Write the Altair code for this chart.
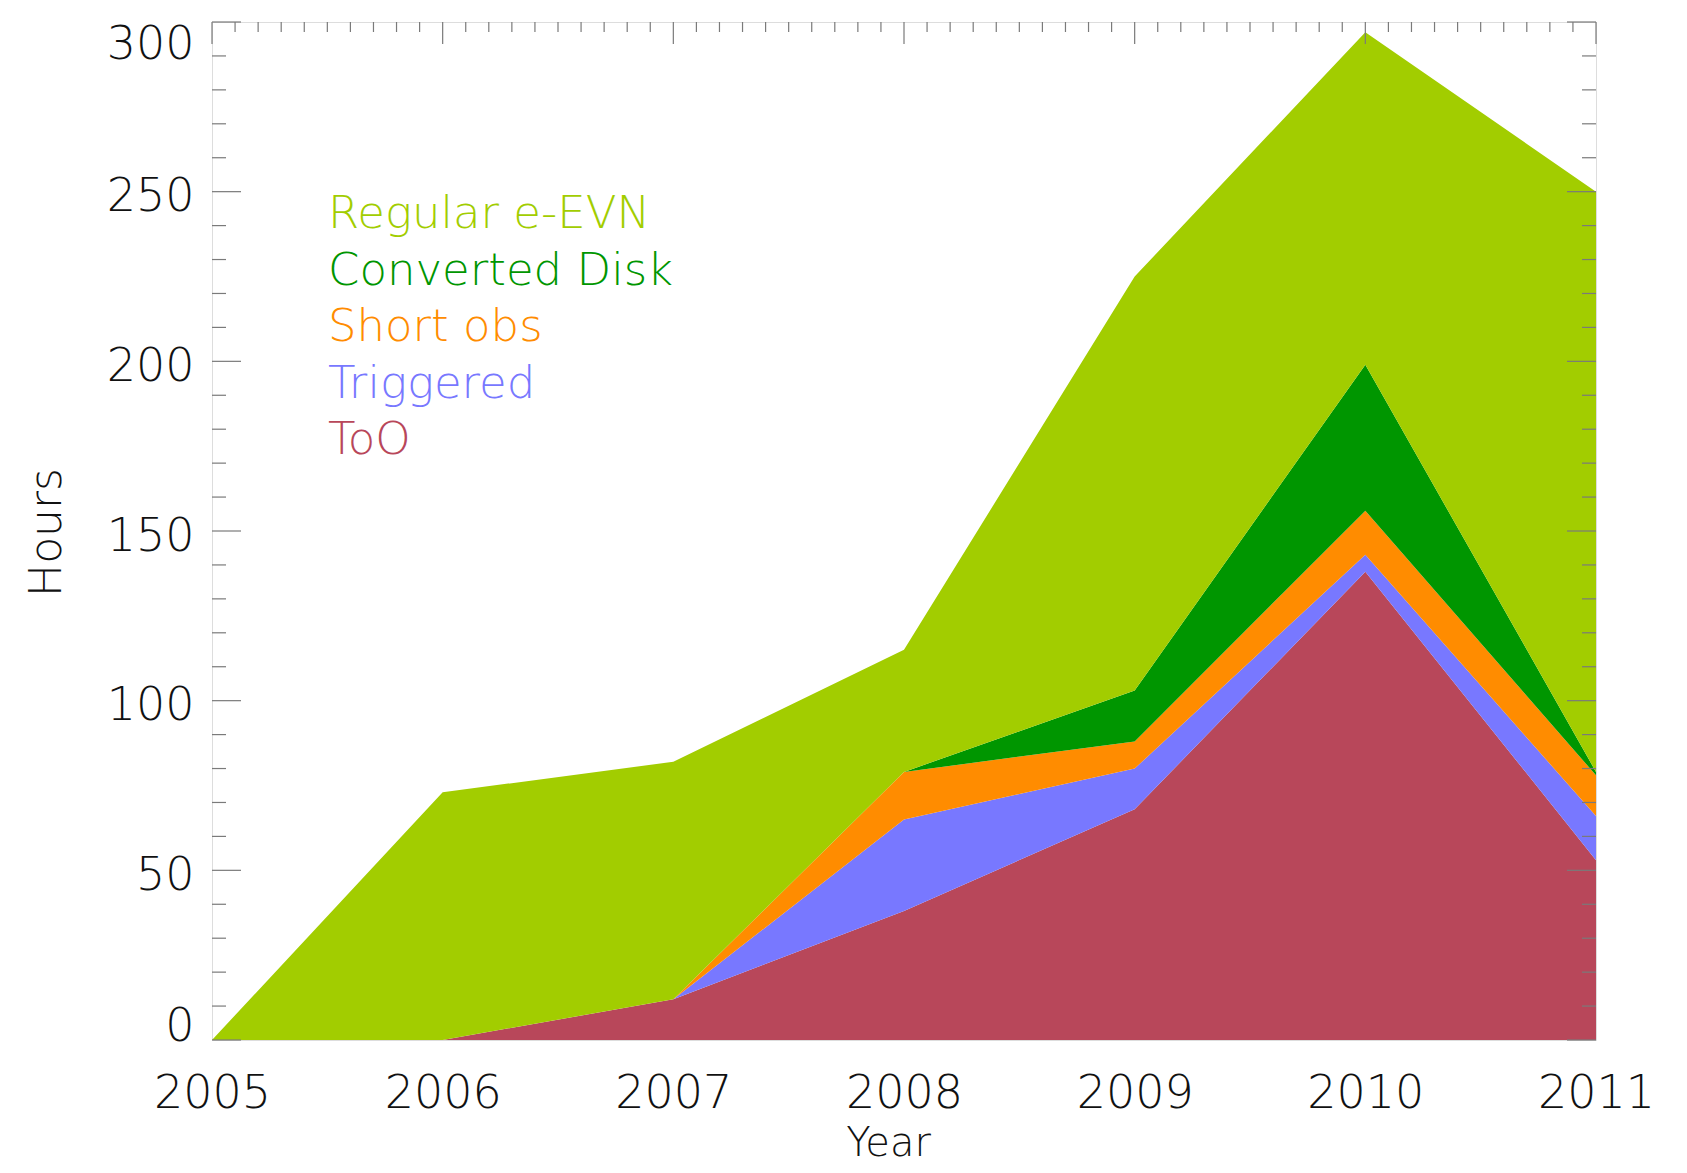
import altair as alt
import pandas as pd

# ---------------- data ----------------
years = [2005, 2006, 2007, 2008, 2009, 2010, 2011]
series = ["ToO", "Triggered", "Short obs", "Converted Disk", "Regular e-EVN"]
too = [0, 0, 12, 38, 68, 138, 53]
triggered = [0, 0, 0, 27, 12, 5, 13]
short_obs = [0, 0, 0, 14, 8, 13, 12]
converted = [0, 0, 0, 0, 15, 43, 1]
regular = [0, 73, 70, 36, 122, 98, 171]
series_colors = ["#B8475A", "#7878FF", "#FF8C00", "#009600", "#A2CD00"]

legend_labels = ["Regular e-EVN", "Converted Disk", "Short obs", "Triggered", "ToO"]
legend_colors = ["#A2CD00", "#009600", "#FF8C00", "#7878FF", "#B8475A"]

y_label_values = [0, 50, 100, 150, 200, 250, 300]
y_minor = list(range(0, 301, 10))
x_minor = [round(2005 + i / 10, 1) for i in range(61)]

# ---------------- layout ----------------
W, H = 1384, 1018
FONT = "DejaVu Sans"
WEIGHT = 300
TICK_COLOR = "#7a7a7a"

rows = []
for i, (name, vals) in enumerate(zip(series, [too, triggered, short_obs, converted, regular])):
    for yr, v in zip(years, vals):
        rows.append({"Year": yr, "Category": name, "Hours": v, "order": i})
df = pd.DataFrame(rows)

x_scale = alt.Scale(domain=[2005, 2011], nice=False, zero=False)
y_scale = alt.Scale(domain=[0, 300], nice=False)

x_axis = alt.Axis(
    values=years, format="d", labelFont=FONT, labelFontSize=46, labelColor="#111",
    labelFontWeight=WEIGHT,
    labelPadding=31, ticks=False, tickSize=0, domain=False, grid=False,
    labelFlush=False, labelAngle=0,
    title="Year", titleFont=FONT, titleFontSize=40, titleFontWeight=WEIGHT,
    titleColor="#111", titleX=676, titleY=115, titleBaseline="alphabetic",
)
y_axis = alt.Axis(
    values=y_label_values, format="d", labelFont=FONT, labelFontSize=46, labelColor="#111",
    labelFontWeight=WEIGHT,
    labelPadding=18, ticks=False, tickSize=0, domain=False, grid=False,
    labelFlush=True, labelOffset=5, labelFlushOffset=5,
    title="Hours", titleFont=FONT, titleFontSize=44, titleFontWeight=WEIGHT,
    titleColor="#111", titleX=-152, titleY=510, titleBaseline="alphabetic",
)

areas = alt.Chart(df).mark_area(opacity=1, interpolate="linear").encode(
    x=alt.X("Year:Q", scale=x_scale, axis=x_axis),
    y=alt.Y("Hours:Q", stack="zero", scale=y_scale, axis=y_axis),
    color=alt.Color("Category:N", scale=alt.Scale(domain=series, range=series_colors), legend=None),
    order=alt.Order("order:Q", sort="ascending"),
)

ydf = pd.DataFrame({"v": y_minor})
ymaj = ydf[ydf["v"] % 50 == 0]
ymin = ydf[ydf["v"] % 50 != 0]
xdf = pd.DataFrame({"v": x_minor})
xmaj = xdf[(xdf["v"] * 10).round() % 10 == 0]
xmin = xdf[(xdf["v"] * 10).round() % 10 != 0]


def hticks(d, x0, x1):
    return alt.Chart(d).mark_rule(color=TICK_COLOR, strokeWidth=1.2).encode(
        y=alt.Y("v:Q", scale=y_scale, axis=y_axis), x=alt.value(x0), x2=alt.value(x1)
    )


def vticks(d, y0, y1):
    return alt.Chart(d).mark_rule(color=TICK_COLOR, strokeWidth=1.2).encode(
        x=alt.X("v:Q", scale=x_scale, axis=x_axis), y=alt.value(y0), y2=alt.value(y1)
    )


top_ticks = [vticks(xmaj, 0, 22), vticks(xmin, 0, 10)]
left_ticks = [hticks(ymaj, 0, 29), hticks(ymin, 0, 14)]
right_ticks = [hticks(ymaj, W - 29, W), hticks(ymin, W - 14, W)]

legend_layers = []
for i, (lab, col) in enumerate(zip(legend_labels, legend_colors)):
    legend_layers.append(
        alt.Chart(pd.DataFrame({"t": [lab]})).mark_text(
            align="left", baseline="alphabetic", font=FONT, fontSize=45,
            fontWeight=WEIGHT, color=col
        ).encode(text="t:N", x=alt.value(116), y=alt.value(206 + i * 56.6))
    )

chart = alt.layer(
    areas, *top_ticks, *left_ticks, *right_ticks, *legend_layers
).properties(
    width=W, height=H,
    autosize=alt.AutoSizeParams(type="none"),
    padding={"left": 204, "top": 14, "right": 83, "bottom": 125},
).configure_view(
    stroke="#8a8a8a", strokeWidth=1.2
).configure(background="white")

chart.save("out.html", embed_options={"renderer": "svg", "actions": False})
